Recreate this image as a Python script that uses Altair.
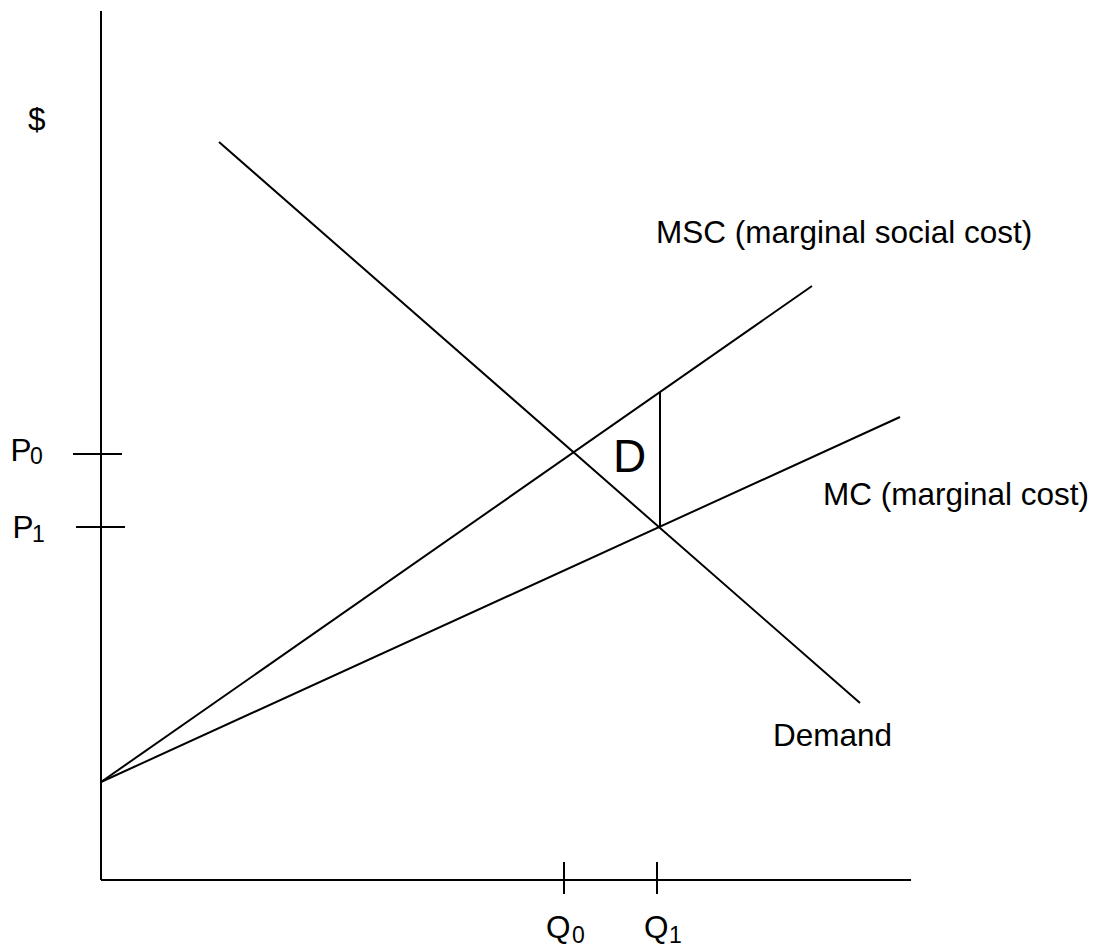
import altair as alt
import pandas as pd

# Segments of the diagram (quantity on x, price on y, arbitrary units)
seg_name = ["y_axis", "x_axis", "Demand", "MSC", "MC", "D_side",
            "P0_tick", "P1_tick", "Q0_tick", "Q1_tick"]
seg_x1 = [0.0, 0.0, 11.8, 0.0, 0.0, 55.9, -2.8, -2.5, 46.3, 55.6]
seg_y1 = [0.0, 0.0, 73.8, 9.8, 9.8, 35.3, 42.6, 35.3, 1.8, 1.8]
seg_x2 = [0.0, 81.0, 75.9, 71.1, 79.9, 55.9, 2.1, 2.4, 46.3, 55.6]
seg_y2 = [86.9, 0.0, 17.7, 59.4, 46.3, 48.8, 42.6, 35.3, -1.4, -1.4]

# Main labels
lab_text = ["$", "MSC (marginal social cost)", "MC (marginal cost)", "Demand", "P", "P", "Q", "Q"]
lab_x = [-7.3, 55.5, 72.2, 67.2, -9.05, -8.84, 44.5, 54.3]
lab_y = [75.0, 63.7, 37.5, 13.4, 41.9, 34.2, -5.8, -5.8]

# Subscripts
sub_text = ["0", "1", "0", "1"]
sub_x = [-7.1, -6.9, 47.1, 56.8]
sub_y = [41.6, 33.8, -6.3, -6.3]

# Region label
area_text = ["D"]
area_x = [51.2]
area_y = [40.8]

segs = pd.DataFrame({"name": seg_name, "x": seg_x1, "y": seg_y1, "x2": seg_x2, "y2": seg_y2})
labs = pd.DataFrame({"text": lab_text, "x": lab_x, "y": lab_y})
subs = pd.DataFrame({"text": sub_text, "x": sub_x, "y": sub_y})
area = pd.DataFrame({"text": area_text, "x": area_x, "y": area_y})

xs = alt.Scale(domain=[-9.3, 99.0], nice=False, zero=False)
ys = alt.Scale(domain=[-6.4, 87.2], nice=False, zero=False)

lines = alt.Chart(segs).mark_rule(color="black", strokeWidth=2).encode(
    x=alt.X("x:Q", scale=xs, axis=None),
    y=alt.Y("y:Q", scale=ys, axis=None),
    x2="x2:Q",
    y2="y2:Q",
)

font = "Liberation Sans"

labels = alt.Chart(labs).mark_text(
    align="left", baseline="alphabetic", fontSize=31.5, font=font, color="black"
).encode(
    x=alt.X("x:Q", scale=xs, axis=None),
    y=alt.Y("y:Q", scale=ys, axis=None),
    text="text:N",
)

subscripts = alt.Chart(subs).mark_text(
    align="left", baseline="alphabetic", fontSize=23, font=font, color="black"
).encode(
    x=alt.X("x:Q", scale=xs, axis=None),
    y=alt.Y("y:Q", scale=ys, axis=None),
    text="text:N",
)

area_label = alt.Chart(area).mark_text(
    align="left", baseline="alphabetic", fontSize=46, font=font, color="black"
).encode(
    x=alt.X("x:Q", scale=xs, axis=None),
    y=alt.Y("y:Q", scale=ys, axis=None),
    text="text:N",
)

chart = alt.layer(lines, labels, subscripts, area_label).properties(
    width=1083, height=936, padding=0, background="white",
    autosize=alt.AutoSizeParams(type="none")
).configure_view(stroke=None)

chart.save("out.html", embed_options={"renderer": "svg", "actions": False})
